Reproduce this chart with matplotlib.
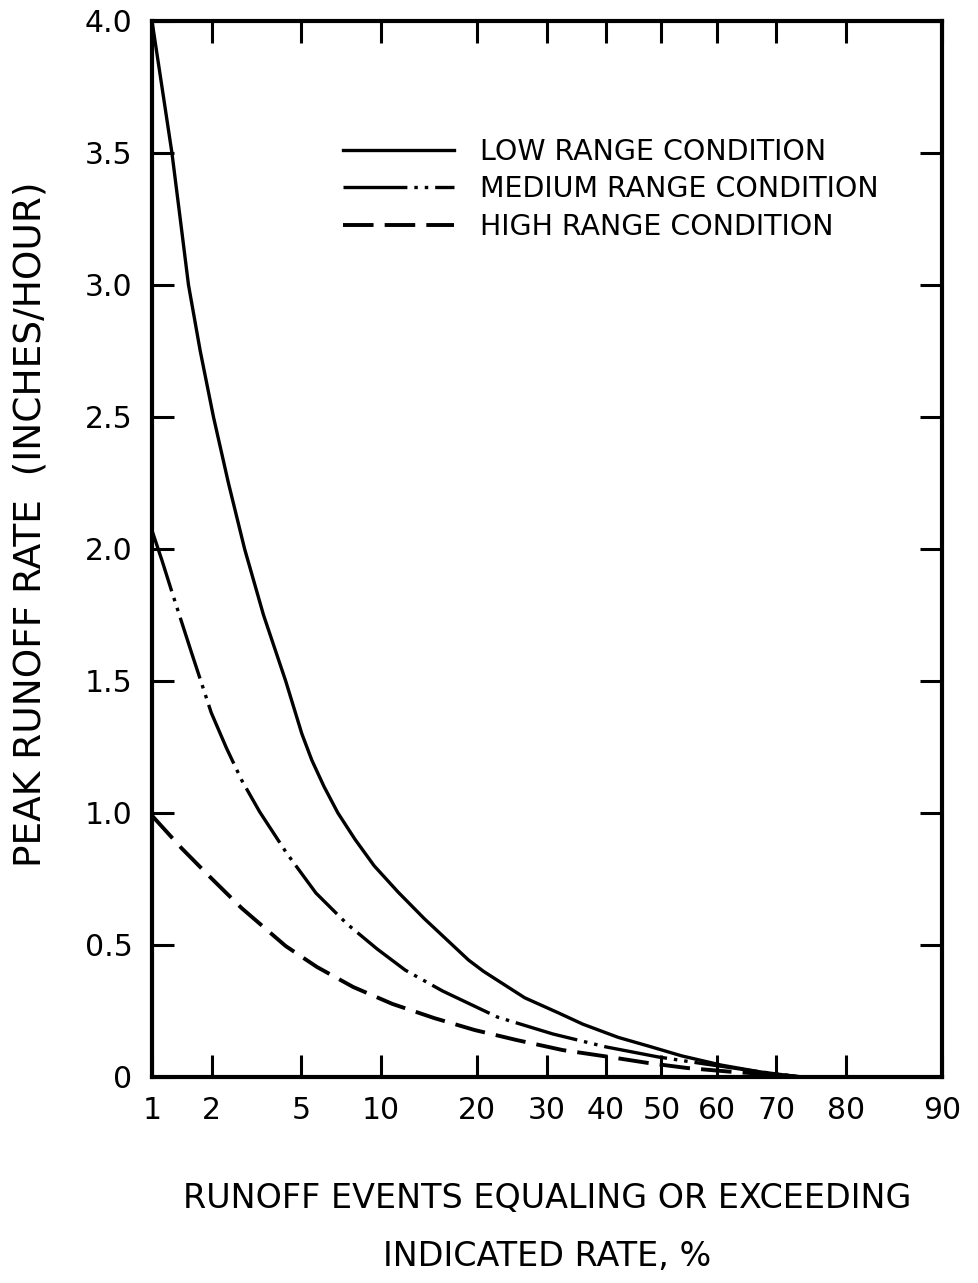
import numpy as np
import matplotlib
matplotlib.use("Agg")
import matplotlib.pyplot as plt
from statistics import NormalDist

# exceedance percent (x) vs peak runoff rate in inches/hour (y)
low_pct = [1.0, 1.27, 1.40, 1.54, 1.76, 2.04, 2.40, 2.85, 3.46, 4.31, 5.03, 5.52,
           6.17, 6.98, 8.09, 9.48, 11.47, 13.94, 17.0, 18.92, 20.84, 26.63, 31.99,
           36.0, 42.2, 48.0, 53.7, 60.8, 67.2, 73.7]
low_rate = [4.0, 3.5, 3.25, 3.0, 2.75, 2.5, 2.25, 2.0, 1.75, 1.5, 1.3, 1.2,
            1.1, 1.0, 0.9, 0.8, 0.7, 0.6, 0.5, 0.443, 0.4, 0.3, 0.242,
            0.2, 0.15, 0.115, 0.08, 0.045, 0.02, 0.0]

med_pct = [1.0, 1.13, 1.26, 1.59, 1.99, 2.35, 2.76, 3.33, 4.35, 5.73, 7.55, 9.71,
           12.1, 15.87, 22.7, 31.0, 40.0, 49.4, 58.0, 66.3, 73.7]
med_rate = [2.07, 1.955, 1.845, 1.61, 1.38, 1.246, 1.125, 1.004, 0.848, 0.697, 0.58,
            0.485, 0.405, 0.326, 0.227, 0.163, 0.114, 0.076, 0.049, 0.023, 0.0]

high_pct = [1.0, 1.42, 1.95, 2.76, 4.31, 5.78, 7.96, 10.95, 14.99, 19.68, 25.43,
            32.6, 40.6, 47.6, 54.7, 62.9, 70.6, 73.7]
high_rate = [0.99, 0.867, 0.76, 0.64, 0.496, 0.417, 0.341, 0.277, 0.223, 0.178, 0.14,
             0.102, 0.076, 0.053, 0.034, 0.019, 0.008, 0.0]

x_ticks = [1, 2, 5, 10, 20, 30, 40, 50, 60, 70, 80, 90]
x_tick_labels = ["1", "2", "5", "10", "20", "30", "40", "50", "60", "70", "80", "90"]
y_ticks = [0, 0.5, 1.0, 1.5, 2.0, 2.5, 3.0, 3.5, 4.0]
y_tick_labels = ["0", "0.5", "1.0", "1.5", "2.0", "2.5", "3.0", "3.5", "4.0"]

series_labels = ["LOW RANGE CONDITION", "MEDIUM RANGE CONDITION", "HIGH RANGE CONDITION"]

_nd = NormalDist()
_ppf = np.vectorize(_nd.inv_cdf, otypes=[float])
_cdf = np.vectorize(_nd.cdf, otypes=[float])


def pct_to_z(p):
    # normal probability paper
    p = np.clip(np.asarray(p, dtype=float) / 100.0, 1e-9, 1 - 1e-9)
    return _ppf(p)


def z_to_pct(z):
    return _cdf(np.asarray(z, dtype=float)) * 100.0


plt.rcParams['font.family'] = ['DejaVu Sans']
plt.rcParams['lines.scale_dashes'] = False

W, H = 979, 1283
fig = plt.figure(figsize=(W / 100, H / 100), dpi=100)
ax = fig.add_axes([152 / W, 1 - 1077 / H, (942 - 152) / W, (1077 - 21) / H])

ax.set_xscale('function', functions=(pct_to_z, z_to_pct))
ax.set_xlim(1, 90)
ax.set_ylim(0, 4.0)

lw = 2.4
ax.plot(low_pct, low_rate, color='black', lw=lw, solid_joinstyle='round',
        label=series_labels[0])
ax.plot(med_pct, med_rate, color='black', lw=lw,
        linestyle=(0, (46, 5, 2.5, 5, 2.5, 5)), label=series_labels[1])
ax.plot(high_pct, high_rate, color='black', lw=lw + 0.4,
        linestyle=(0, (22, 8)), label=series_labels[2])

ax.set_xticks(x_ticks)
ax.set_xticklabels(x_tick_labels)
ax.set_yticks(y_ticks)
ax.set_yticklabels(y_tick_labels)
ax.minorticks_off()

ax.tick_params(direction='in', length=16, width=2.2, top=True, right=True,
               labelsize=21.5, colors='black')
ax.tick_params(axis='x', pad=14)
ax.tick_params(axis='y', pad=14)

for s in ax.spines.values():
    s.set_linewidth(3.0)

ax.set_xlabel("RUNOFF EVENTS EQUALING OR EXCEEDING\nINDICATED RATE, %",
              fontsize=24, linespacing=1.95, labelpad=41)
ax.set_ylabel("PEAK RUNOFF RATE  (INCHES/HOUR)", fontsize=27)
ax.yaxis.set_label_coords(-0.131, 0.523)

leg = ax.legend(loc='upper left', bbox_to_anchor=(343 / W, 1 - 138 / H),
                bbox_transform=fig.transFigure, frameon=False, fontsize=20.5,
                handlelength=3.9, handletextpad=0.9, labelspacing=0.33,
                borderpad=0, borderaxespad=0)

fig.savefig("out.png", dpi=100, facecolor='white')
